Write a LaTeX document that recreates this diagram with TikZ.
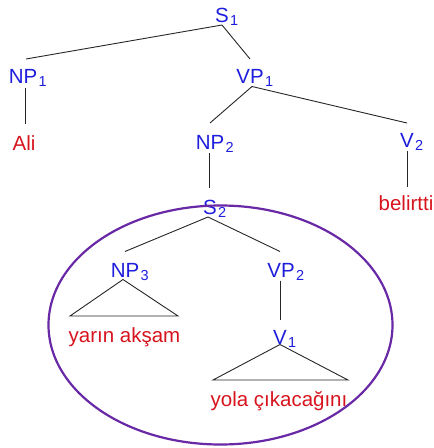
\documentclass[tikz,border=0pt]{standalone}
\usepackage{fontspec}
\setmainfont{Liberation Sans}
\definecolor{catblue}{RGB}{30,30,220}
\definecolor{wordred}{RGB}{215,20,30}
\definecolor{ringpurple}{RGB}{105,40,165}
\newcommand\lsub[1]{\rlap{\kern1.4pt\raisebox{-2.8pt}{\fontsize{14.5}{14.5}\selectfont #1}}}
\begin{document}
\begin{tikzpicture}[x=1pt,y=-1pt,
  cat/.style={inner sep=0pt,text height=14.6pt,text depth=0pt,font=\fontsize{20.5}{20.5}\selectfont,text=catblue},
  word/.style={inner sep=0pt,text height=14.6pt,text depth=0pt,font=\fontsize{20.5}{20.5}\selectfont,text=wordred},
  edge/.style={draw=black!85,line width=0.9pt}]
\useasboundingbox (0,0) rectangle (434,448);
\node[cat] (S1) at (222,15) {S\lsub{1}};
\node[cat] (NP1) at (23,76.5) {NP\lsub{1}};
\node[cat] (VP1) at (250,76) {VP\lsub{1}};
\node[word] (Ali) at (24,143) {Ali};
\node[cat] (NP2) at (210,142.5) {NP\lsub{2}};
\node[cat] (V2) at (407,140.5) {V\lsub{2}};
\node[word] (bel) at (406,203.5) {belirtti};
\node[cat] (S2) at (210,207.5) {S\lsub{2}};
\node[cat] (NP3) at (125,270) {NP\lsub{3}};
\node[cat] (VP2) at (281,270) {VP\lsub{2}};
\node[cat] (V1) at (280,337) {V\lsub{1}};
\node[word] (ya) at (124.5,335) {yarın akşam};
\node[word] (yc) at (279,399.5) {yola çıkacağını};
\coordinate (t1l) at (70,316);
\coordinate (t1r) at (178,316);
\coordinate (t2l) at (213,380);
\coordinate (t2r) at (348,380);
\draw[edge] ([yshift=-2.5pt]S1.south) -- ([xshift=3pt,yshift=10pt]NP1.north);
\draw[edge] ([yshift=-2.5pt]S1.south) -- ([yshift=9.5pt]VP1.north);
\draw[edge] ([xshift=2pt,yshift=-4pt]NP1.south) -- ([xshift=1pt,yshift=12pt]Ali.north);
\draw[edge] ([xshift=2pt,yshift=-3pt]VP1.south) -- ([yshift=12pt]NP2.north);
\draw[edge] ([xshift=2pt,yshift=-3pt]VP1.south) -- ([yshift=10pt]V2.north);
\draw[edge] ([xshift=-1pt,yshift=-3pt]NP2.south) -- ([xshift=-1pt,yshift=12pt]S2.north);
\draw[edge] ([yshift=-3pt]V2.south) -- ([xshift=1pt,yshift=9pt]bel.north);
\draw[edge] ([xshift=-2pt,yshift=-2pt]S2.south) -- ([yshift=11pt]NP3.north);
\draw[edge] ([xshift=-2pt,yshift=-2pt]S2.south) -- ([xshift=-1pt,yshift=11pt]VP2.north);
\draw[edge] ([xshift=-1pt,yshift=-3pt]VP2.south) -- ([yshift=10pt]V1.north);
\draw[edge] ([xshift=-2pt,yshift=-2pt]NP3.south) -- (t1l) -- (t1r) -- cycle;
\draw[edge] (V1.south) -- (t2l) -- (t2r) -- cycle;
\draw[ringpurple,line width=2.2pt] (220.5,325) ellipse [x radius=172,y radius=119.5];
\end{tikzpicture}
\end{document}
